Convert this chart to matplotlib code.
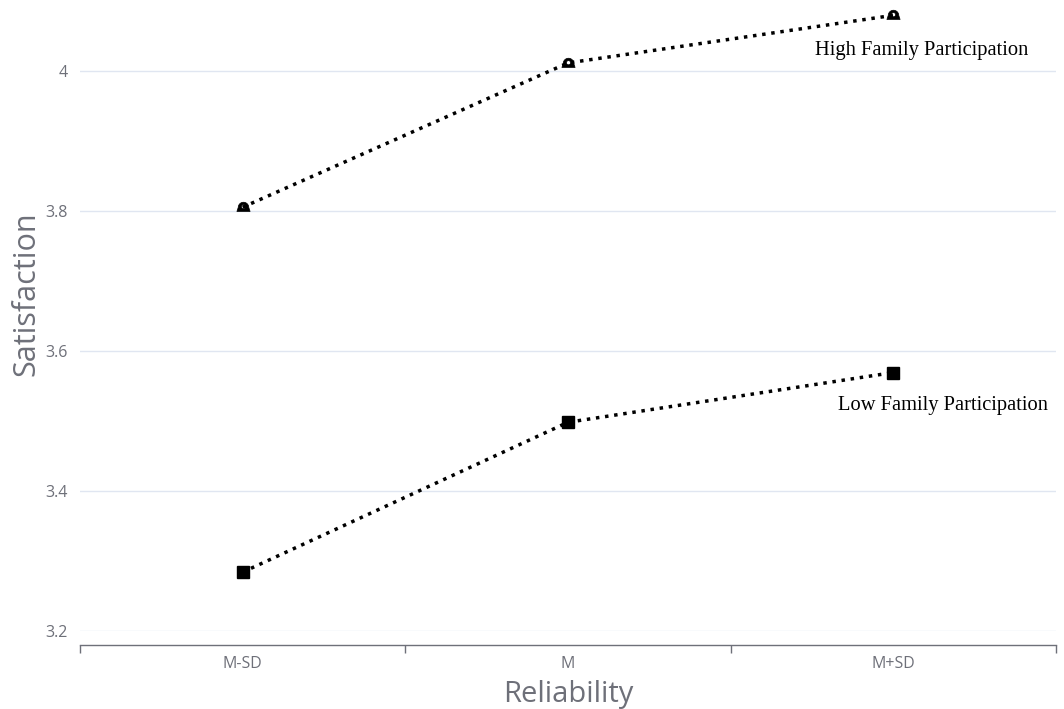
import numpy as np
import matplotlib.pyplot as plt
from matplotlib.path import Path

# Data
categories = ['M-SD', 'M', 'M+SD']
high_family = [3.805, 4.011, 4.079]
low_family = [3.284, 3.498, 3.569]
y_ticks = [3.2, 3.4, 3.6, 3.8, 4.0]
y_tick_labels = ['3.2', '3.4', '3.6', '3.8', '4']

GRAY = '#6e7079'
GRID = '#e0e6f1'


def bell_marker():
    # dome with a flat base and a small hole, like the reference symbol
    t = np.linspace(0, np.pi, 16)
    outer = list(zip(np.cos(t), np.sin(t))) + [(-1.25, -0.75), (1.25, -0.75), (1.0, 0.0)]
    outer_codes = [Path.MOVETO] + [Path.LINETO] * (len(outer) - 1)
    s = np.linspace(0, -2 * np.pi, 16)
    inner = list(zip(0.4 * np.cos(s), 0.15 + 0.4 * np.sin(s)))
    inner_codes = [Path.MOVETO] + [Path.LINETO] * (len(inner) - 1)
    return Path(outer + inner, outer_codes + inner_codes)


fig = plt.figure(figsize=(10.64, 7.09), dpi=100)
ax = fig.add_axes([80 / 1064, 78 / 709, 976 / 1064, 629 / 709])

x = list(range(len(categories)))
ax.plot(x, high_family, color='black', linestyle=':', linewidth=2.5, marker=bell_marker(),
        markersize=9.5, markerfacecolor='black', markeredgecolor='black', markeredgewidth=0.5,
        zorder=3, clip_on=False)
ax.plot(x, low_family, color='black', linestyle=':', linewidth=2.5, marker='s',
        markersize=8, markerfacecolor='black', markeredgecolor='black', zorder=3)

# Series labels
ax.text(x[-1] + 0.415, high_family[-1] - 0.050, 'High Family Participation',
        family='Liberation Serif', fontsize=14.8, color='black', ha='right', va='center')
ax.text(x[-1] + 0.476, low_family[-1] - 0.047, 'Low Family Participation',
        family='Liberation Serif', fontsize=14.8, color='black', ha='right', va='center')

ax.set_xlim(-0.5, len(categories) - 0.5)
ax.set_ylim(3.2, 4.098)

ax.set_yticks(y_ticks)
ax.set_yticklabels(y_tick_labels)
ax.yaxis.grid(True, color=GRID, linewidth=1)
ax.set_axisbelow(True)
ax.tick_params(axis='y', length=0, pad=9, labelsize=11.5, labelcolor=GRAY)

# category axis with boundary ticks
ax.set_xticks([-0.5, 0.5, 1.5, 2.5])
ax.set_xticklabels([])
ax.set_xticks(x, minor=True)
ax.set_xticklabels(categories, minor=True)
ax.tick_params(axis='x', which='major', length=6, color=GRAY, width=1, direction='out')
ax.tick_params(axis='x', which='minor', length=0, pad=8, labelsize=11.5, labelcolor=GRAY)

for side in ['top', 'right', 'left']:
    ax.spines[side].set_visible(False)
ax.spines['bottom'].set_position(('outward', 10))
ax.spines['bottom'].set_color(GRAY)
ax.spines['bottom'].set_linewidth(1)

ax.set_xlabel('Reliability', fontsize=21, color=GRAY, labelpad=6)
ax.set_ylabel('Satisfaction', fontsize=22, color=GRAY)
ax.yaxis.set_label_coords(-0.040, 0.537)

for t in ax.get_xticklabels(minor=True) + ax.get_yticklabels():
    t.set_family('Open Sans')
ax.xaxis.label.set_family('Open Sans')
ax.yaxis.label.set_family('Open Sans')

fig.savefig('out.png', dpi=100)
